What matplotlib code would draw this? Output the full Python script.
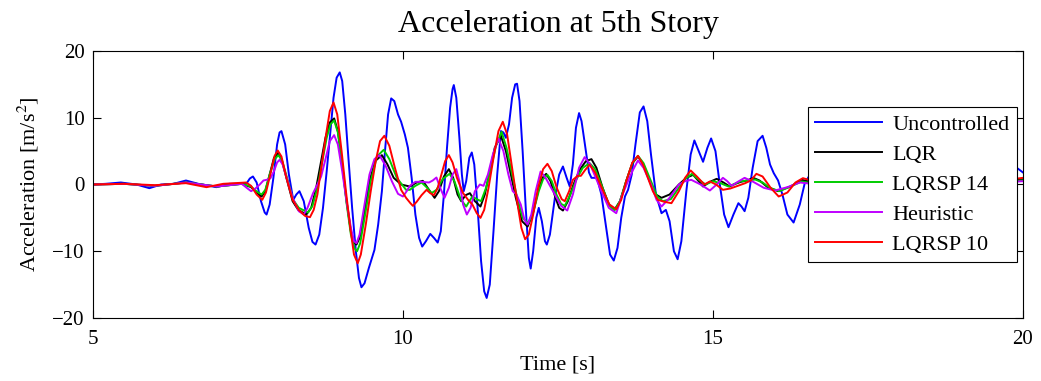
import numpy as np
import matplotlib
matplotlib.use("Agg")
import matplotlib.pyplot as plt

# values (time [s], acceleration [m/s^2])
t_unc = [5.0, 5.2, 5.45, 5.7, 5.91, 6.1, 6.3, 6.5, 6.7, 6.99, 7.2, 7.4, 7.48, 7.53, 7.58, 7.64,
         7.71, 7.77, 7.80, 7.85, 7.91, 7.97, 8.01, 8.04, 8.10, 8.16, 8.23, 8.28, 8.33, 8.40,
         8.48, 8.54, 8.59, 8.65, 8.71, 8.77, 8.83, 8.88, 8.93, 8.98, 9.02, 9.07, 9.12, 9.18,
         9.24, 9.29, 9.33, 9.38, 9.45, 9.54, 9.60, 9.66, 9.71, 9.76, 9.81, 9.86, 9.92, 9.97,
         10.03, 10.08, 10.14, 10.20, 10.26, 10.31, 10.37, 10.44, 10.50, 10.56, 10.61, 10.66,
         10.71, 10.76, 10.80, 10.82, 10.86, 10.91, 10.95, 10.98, 11.02, 11.07, 11.11, 11.15,
         11.20, 11.26, 11.31, 11.35, 11.40, 11.46, 11.52, 11.58, 11.62, 11.66, 11.71, 11.76,
         11.81, 11.84, 11.88, 11.93, 11.98, 12.03, 12.06, 12.10, 12.15, 12.19, 12.24, 12.29,
         12.32, 12.37, 12.45, 12.52, 12.58, 12.64, 12.69, 12.74, 12.79, 12.84, 12.88, 12.95,
         13.00, 13.04, 13.13, 13.20, 13.27, 13.34, 13.40, 13.46, 13.52, 13.58, 13.63, 13.69,
         13.75, 13.82, 13.88, 13.94, 14.00, 14.08, 14.17, 14.24, 14.30, 14.37, 14.43, 14.49,
         14.57, 14.64, 14.70, 14.77, 14.84, 14.91, 14.97, 15.04, 15.11, 15.18, 15.25, 15.33,
         15.41, 15.46, 15.51, 15.57, 15.64, 15.72, 15.80, 15.86, 15.92, 15.98, 16.05, 16.12,
         16.20, 16.30, 16.40, 16.48, 16.6, 16.9, 17.2, 17.6, 18.0, 18.5, 19.0, 19.5, 19.9, 20.0]
a_unc = [0.0, 0.1, 0.3, 0.0, -0.55, 0.0, 0.1, 0.6, 0.1, -0.4, 0.1, 0.1, 0.2, 0.9, 1.2, 0.3,
         -2.5, -4.2, -4.5, -3.0, 1.0, 6.0, 7.8, 8.0, 6.0, 1.5, -2.3, -1.5, -1.0, -2.5,
         -6.5, -8.6, -9.0, -7.5, -3.5, 2.0, 8.0, 13.0, 16.0, 16.8, 15.5, 10.5, 4.0, -3.5,
         -10.0, -14.0, -15.4, -14.8, -12.5, -9.8, -6.0, -1.0, 5.0, 10.5, 12.9, 12.5, 10.5, 9.4,
         7.5, 5.5, 1.0, -4.5, -8.0, -9.3, -8.5, -7.4, -8.0, -8.7, -7.0, -1.5,
         5.5, 11.5, 14.3, 14.9, 13.0, 7.0, 1.5, -1.0, 0.5, 4.0, 4.8, 3.0,
         -3.0, -11.5, -16.0, -17.0, -15.0, -7.0, 1.5, 8.0, 7.8, 7.0, 9.0, 13.0,
         15.0, 15.1, 12.5, 5.0, -3.5, -11.0, -12.6, -10.0, -5.0, -3.5, -5.5, -8.5,
         -9.0, -7.5, -2.0, 1.5, 2.7, 1.0, -0.3, 3.0, 8.5, 10.7, 9.5, 5.0,
         1.8, 1.0, 1.0, -1.5, -6.0, -10.5, -11.4, -9.5, -5.0, -1.8, -0.8, 1.5,
         6.0, 10.8, 11.7, 9.5, 4.5, -1.5, -4.3, -3.8, -5.5, -10.0, -11.2, -8.5,
         -1.0, 4.5, 6.6, 5.0, 3.4, 5.5, 6.9, 5.0, 0.0, -4.5, -6.4, -4.5,
         -2.8, -3.3, -4.0, -2.0, 2.5, 6.5, 7.3, 5.5, 3.0, 1.7, 0.6, -1.5,
         -4.5, -5.7, -3.0, 0.2, 2.0, 1.0, -3.0, 2.0, -1.5, 1.5, -1.0, 1.0, 2.5, 1.8]

t_lqr = [5.0, 5.5, 6.0, 6.5, 7.0, 7.4, 7.55, 7.65, 7.72, 7.78, 7.85, 7.92, 7.98, 8.04, 8.12,
         8.22, 8.31, 8.44, 8.52, 8.60, 8.68, 8.75, 8.82, 8.89, 8.95, 9.02, 9.09, 9.16, 9.21,
         9.25, 9.30, 9.38, 9.46, 9.55, 9.66, 9.75, 9.85, 9.97, 10.11, 10.22, 10.32, 10.42,
         10.51, 10.58, 10.66, 10.74, 10.81, 10.88, 10.94, 11.01, 11.08, 11.16, 11.25, 11.32,
         11.40, 11.48, 11.58, 11.66, 11.74, 11.82, 11.92, 12.01, 12.09, 12.18, 12.25, 12.31,
         12.38, 12.46, 12.52, 12.58, 12.66, 12.75, 12.85, 12.95, 13.04, 13.12, 13.22, 13.32,
         13.41, 13.50, 13.60, 13.70, 13.79, 13.88, 13.98, 14.08, 14.17, 14.30, 14.45, 14.57,
         14.68, 14.76, 14.84, 14.95, 15.06, 15.17, 15.27, 15.36, 15.45, 15.55, 15.65, 15.75,
         15.88, 16.05, 16.25, 16.43, 17.0, 17.5, 18.0, 18.5, 19.0, 19.5, 20.0]
a_lqr = [0.0, 0.1, -0.2, 0.3, -0.3, 0.1, -0.4, -1.3, -1.8, -1.0, 1.5, 4.0, 4.7, 3.8, 1.0,
         -2.5, -3.8, -4.5, -3.5, -0.5, 3.5, 7.0, 9.3, 9.9, 8.0, 3.0, -2.5, -7.0, -8.7,
         -9.0, -8.0, -4.0, 0.5, 3.5, 4.4, 3.0, 1.0, 0.0, -0.3, 0.3, 0.55, -0.8,
         -2.0, -1.0, 1.2, 2.3, 1.0, -1.5, -2.5, -1.6, -1.3, -2.5, -3.3, -1.5,
         2.0, 5.5, 7.3, 5.0, 1.5, -2.0, -5.5, -6.3, -4.5, -1.0, 1.0, 1.6,
         0.5, -2.0, -3.5, -3.9, -2.5, 0.0, 2.2, 3.5, 3.8, 2.5, -0.5, -3.0,
         -3.8, -2.5, 0.5, 3.2, 4.2, 3.0, 0.5, -1.5, -2.0, -1.5, 0.0, 1.0,
         1.45, 0.6, -0.3, 0.4, 0.85, 0.3, -0.3, 0.1, 0.4, 0.6, 1.0, 0.6,
         -0.4, -1.0, -0.3, 0.7, -0.5, 0.5, -0.5, 0.3, -0.3, 0.3, 0.8]

t_sp14 = [5.0, 5.5, 6.0, 6.5, 7.0, 7.4, 7.55, 7.65, 7.72, 7.78, 7.85, 7.93, 7.99, 8.05, 8.13,
          8.23, 8.32, 8.47, 8.54, 8.62, 8.70, 8.77, 8.83, 8.89, 8.95, 9.02, 9.09, 9.16, 9.22,
          9.26, 9.31, 9.39, 9.48, 9.58, 9.69, 9.78, 9.90, 10.05, 10.11, 10.20, 10.30, 10.38,
          10.46, 10.54, 10.64, 10.75, 10.83, 10.93, 11.02, 11.07, 11.12, 11.19, 11.26, 11.34,
          11.42, 11.50, 11.59, 11.67, 11.75, 11.83, 11.93, 12.02, 12.10, 12.19, 12.26, 12.33,
          12.40, 12.48, 12.55, 12.61, 12.70, 12.80, 12.90, 13.01, 13.10, 13.22, 13.32, 13.41,
          13.50, 13.60, 13.70, 13.79, 13.88, 14.00, 14.10, 14.19, 14.32, 14.45, 14.56, 14.66,
          14.76, 14.88, 15.00, 15.12, 15.25, 15.35, 15.45, 15.56, 15.68, 15.80, 15.92, 16.07,
          16.25, 16.43, 17.0, 17.5, 18.0, 18.5, 19.0, 19.5, 20.0]
a_sp14 = [0.0, 0.1, -0.2, 0.3, -0.3, 0.1, -0.3, -1.1, -1.5, -0.8, 1.5, 3.8, 4.4, 3.6, 1.0,
          -2.3, -3.5, -4.2, -3.2, -0.5, 3.5, 7.0, 9.0, 9.6, 7.8, 3.0, -2.8, -7.5, -9.6,
          -10.0, -8.8, -4.5, 0.5, 4.2, 5.2, 3.8, 1.0, -0.8, -0.8, -0.2, 0.3, -0.4,
          -1.3, -0.8, 0.8, 1.6, 0.5, -2.2, -3.3, -2.5, -1.8, -2.2, -2.5, -0.5,
          2.5, 5.8, 7.9, 5.5, 2.0, -1.5, -5.0, -5.8, -4.2, -1.0, 0.8, 1.45,
          0.5, -1.6, -2.9, -3.2, -1.5, 0.8, 2.5, 3.2, 2.3, -0.5, -3.0, -3.9,
          -2.5, 0.5, 3.2, 4.3, 3.2, 0.5, -1.8, -2.5, -2.2, -0.5, 0.9, 1.6,
          0.8, 0.0, 0.5, 0.2, -0.3, 0.1, 0.5, 0.6, 0.75, 0.3, -0.5, -1.0,
          -0.3, 0.45, -0.4, 0.4, -0.4, 0.3, -0.3, 0.3, 0.6]

t_heu = [5.0, 5.5, 6.0, 6.5, 7.0, 7.4, 7.48, 7.55, 7.62, 7.69, 7.75, 7.80, 7.86, 7.92, 7.97,
         8.01, 8.06, 8.13, 8.22, 8.32, 8.40, 8.46, 8.55, 8.62, 8.68, 8.75, 8.82, 8.89, 8.95,
         9.02, 9.09, 9.16, 9.21, 9.25, 9.30, 9.38, 9.46, 9.54, 9.62, 9.72, 9.82, 9.92, 10.00,
         10.06, 10.11, 10.20, 10.30, 10.42, 10.48, 10.54, 10.60, 10.67, 10.74, 10.80, 10.86,
         10.91, 10.97, 11.03, 11.09, 11.16, 11.24, 11.30, 11.37, 11.45, 11.54, 11.62, 11.70,
         11.77, 11.83, 11.90, 11.96, 12.01, 12.07, 12.14, 12.22, 12.30, 12.45, 12.55, 12.65,
         12.74, 12.84, 12.93, 13.02, 13.20, 13.32, 13.44, 13.52, 13.62, 13.70, 13.79, 13.88,
         14.00, 14.09, 14.17, 14.30, 14.45, 14.55, 14.65, 14.80, 14.95, 15.06, 15.16, 15.23,
         15.30, 15.40, 15.51, 15.65, 15.82, 16.00, 16.20, 16.40, 17.0, 17.5, 18.0, 18.5,
         19.0, 19.5, 20.0]
a_heu = [0.0, 0.1, -0.2, 0.3, -0.3, 0.1, -0.5, -1.0, -0.6, 0.0, 0.6, 0.7, 0.9, 2.0, 3.3,
         3.7, 3.0, 0.8, -2.0, -4.0, -4.5, -3.5, -1.3, 0.0, 1.2, 3.8, 6.5, 7.4, 6.0,
         2.0, -2.5, -6.5, -8.5, -8.8, -7.5, -3.0, 1.5, 3.8, 4.4, 2.8, 0.5, -1.4, -1.8,
         -1.0, -0.2, 0.4, 0.4, 0.3, 0.6, 1.05, -0.5, -2.0, -0.5, 1.5, 2.3,
         0.5, -3.0, -4.5, -3.5, -1.0, 0.0, -0.2, 1.5, 4.5, 6.9, 5.0, 1.5,
         -1.0, -1.5, -3.0, -5.3, -6.0, -4.5, -1.0, 1.95, 1.0, -1.5, -3.2, -3.9,
         -1.5, 2.5, 4.1, 3.0, -1.0, -3.5, -4.3, -2.0, 0.3, 2.0, 3.6, 2.5,
         0.0, -2.3, -3.3, -2.0, 0.0, 0.5, 0.7, 0.0, -0.9, 0.0, 1.0, 0.5,
         -0.2, 0.4, 1.0, 0.4, -0.5, -0.9, -0.4, 0.3, -0.3, 0.3, -0.3, 0.2,
         -0.2, 0.2, 0.5]

t_sp10 = [5.0, 5.5, 6.0, 6.5, 6.83, 7.1, 7.47, 7.55, 7.64, 7.73, 7.79, 7.86, 7.93, 7.98, 8.04,
          8.12, 8.22, 8.32, 8.42, 8.50, 8.56, 8.62, 8.69, 8.76, 8.82, 8.88, 8.94, 9.01, 9.08,
          9.15, 9.21, 9.27, 9.32, 9.40, 9.48, 9.56, 9.63, 9.70, 9.78, 9.87, 9.97, 10.05,
          10.12, 10.16, 10.22, 10.30, 10.38, 10.44, 10.50, 10.56, 10.62, 10.68, 10.74, 10.80,
          10.87, 10.97, 11.05, 11.12, 11.19, 11.25, 11.31, 11.38, 11.46, 11.54, 11.61, 11.68,
          11.76, 11.84, 11.91, 11.97, 12.03, 12.10, 12.18, 12.26, 12.33, 12.40, 12.48, 12.56,
          12.61, 12.68, 12.74, 12.82, 12.87, 12.94, 13.01, 13.10, 13.22, 13.33, 13.44, 13.52,
          13.60, 13.70, 13.79, 13.87, 13.95, 14.03, 14.11, 14.22, 14.33, 14.45, 14.55, 14.64,
          14.74, 14.86, 14.95, 15.05, 15.16, 15.28, 15.40, 15.52, 15.61, 15.70, 15.80, 15.93,
          16.06, 16.20, 16.33, 16.45, 17.0, 17.5, 18.0, 18.5, 19.0, 19.5, 20.0]
a_sp10 = [0.0, 0.1, -0.1, 0.2, -0.4, 0.1, 0.3, -0.2, -1.5, -2.3, -1.2, 1.5, 4.3, 5.1, 4.2,
          1.0, -2.3, -3.8, -4.7, -4.9, -3.8, -1.5, 3.0, 7.5, 11.0, 12.3, 10.5, 5.0, -1.0,
          -6.5, -10.5, -11.8, -10.5, -6.0, -1.0, 3.5, 6.5, 7.3, 5.8, 2.5, -0.8, -2.0,
          -2.8, -3.2, -2.6, -1.6, -0.8, -1.3, -1.6, -0.5, 1.5, 3.5, 4.4, 3.3,
          1.0, -1.3, -2.3, -3.0, -4.3, -5.0, -3.8, -0.5, 4.0, 8.0, 9.4, 7.5,
          2.5, -2.5, -6.5, -8.2, -7.5, -4.5, -0.5, 2.3, 3.1, 2.0, -0.5, -2.2,
          -2.5, -1.0, 0.7, 1.3, 1.3, 2.2, 2.95, 1.8, -0.8, -3.0, -3.7, -2.3,
          0.5, 3.3, 4.3, 3.0, 1.0, -1.0, -2.3, -2.6, -2.8, -1.0, 1.0, 2.1,
          1.2, 0.0, 0.45, 0.0, -0.8, -0.6, -0.2, 0.2, 0.6, 1.6, 1.2, -0.5,
          -1.8, -1.2, 0.3, 0.95, -0.5, 0.5, -0.5, 0.3, -0.3, 0.4, 1.0]

plt.rcParams['font.family'] = ['Liberation Serif', 'DejaVu Serif']
plt.rcParams['mathtext.fontset'] = 'stix'

fig = plt.figure(figsize=(10.41, 3.81), dpi=100)
ax = fig.add_axes([0.0893, 0.1654, 0.8934, 0.7007])

lw = 1.4
ax.plot(t_unc, a_unc, color=(0, 0, 1), linewidth=lw, label="Uncontrolled")
ax.plot(t_lqr, a_lqr, color="k", linewidth=lw, label="LQR")
ax.plot(t_sp14, a_sp14, color=(0, 0.8, 0), linewidth=lw, label="LQRSP 14")
ax.plot(t_heu, a_heu, color=(0.75, 0, 1), linewidth=lw, label="Heuristic")
ax.plot(t_sp10, a_sp10, color=(1, 0, 0), linewidth=lw, label="LQRSP 10")

ax.set_xlim([5, 20])
ax.set_ylim([-20, 20])
ax.set_xticks([5, 10, 15, 20])
ax.set_yticks([-20, -10, 0, 10, 20])
ax.tick_params(direction="in", top=True, right=True, labelsize=15, length=6, pad=6)
ax.tick_params(axis="x", pad=9)
for sp in ax.spines.values():
    sp.set_linewidth(0.8)

ax.set_xlabel("Time [s]", fontsize=16, labelpad=4)
ax.set_ylabel("Acceleration [m/s$^2$]", fontsize=16, labelpad=8)
ax.set_title("Acceleration at 5th Story", fontsize=23, pad=14)

leg = ax.legend(loc="center right", bbox_to_anchor=(0.9935, 0.5), borderaxespad=0,
                fontsize=16, fancybox=False, framealpha=1, edgecolor="k",
                handlelength=3.0, handletextpad=0.45, labelspacing=0.42, borderpad=0.35)
leg.get_frame().set_linewidth(0.8)

fig.savefig("out.png", dpi=100)
